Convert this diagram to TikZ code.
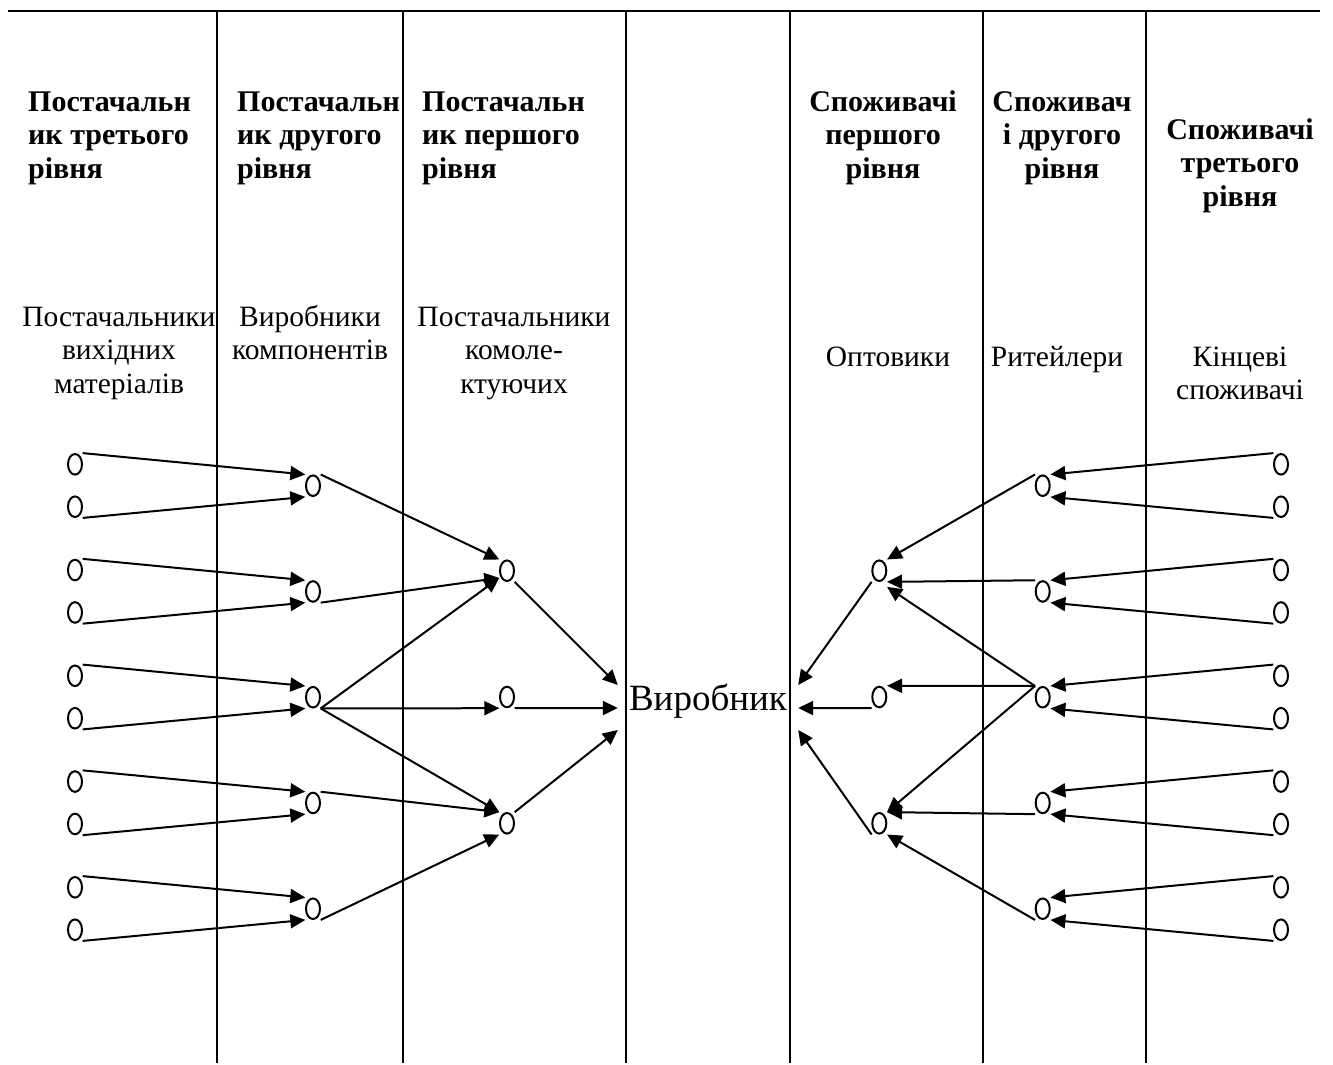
\documentclass[tikz,border=0pt]{standalone}
\usepackage{fontspec}
\setmainfont{Liberation Serif}
\usetikzlibrary{arrows.meta,calc}
\newcommand{\mytabc}[1]{\begin{tabular}[t]{@{}c@{}}#1\end{tabular}}
\newcommand{\mytabl}[1]{\begin{tabular}[t]{@{}l@{}}#1\end{tabular}}
\begin{document}
\begin{tikzpicture}[x=1pt,y=-1pt,
  rule/.style={line width=2pt},
  arr/.style={line width=2pt, -{Triangle[length=15pt,width=14pt]}},
  o/.style={rectangle, minimum width=15pt, minimum height=22pt, inner sep=0pt},
  oval/.style={line width=2pt},
  hdr/.style={font=\fontsize{30}{33.5}\selectfont\bfseries, inner sep=0pt, anchor=base west},
  hdrc/.style={font=\fontsize{30}{33.5}\selectfont\bfseries, inner sep=0pt, anchor=base},
  lbl/.style={font=\fontsize{29.5}{33.5}\selectfont, inner sep=0pt, anchor=base},
]
\useasboundingbox (0,0) rectangle (1333,1065);

% frame lines
\draw[line width=2.4pt] (8,11) -- (1320,11);
\foreach \x in {217,402.5,625.5,789.5,982.7,1145.5}
  \draw[rule] (\x,11) -- (\x,1063);

% headers
\node[hdr] (h1) at (28,111) {\mytabl{Постачальн\\ик третього\\рівня}};
\node[hdr] (h2) at (237,111) {\mytabl{Постачальн\\ик другого\\рівня}};
\node[hdr] (h3) at (422,111) {\mytabl{Постачальн\\ик першого\\рівня}};
\node[hdrc] (h5) at (883,111) {\mytabc{Споживачі\\першого\\рівня}};
\node[hdrc] (h6) at (1062,111) {\mytabc{Споживач\\і другого\\рівня}};
\node[hdrc] (h7) at (1240,139) {\mytabc{Споживачі\\третього\\рівня}};

% labels
\node[lbl] (l1) at (119,326) {\mytabc{Постачальники\\вихідних\\матеріалів}};
\node[lbl] (l2) at (310,326) {\mytabc{Виробники\\компонентів}};
\node[lbl] (l3) at (514,326) {\mytabc{Постачальники\\комоле-\\ктуючих}};
\node[lbl] (l5) at (888,366) {Оптовики};
\node[lbl] (l6) at (1057,366) {Ритейлери};
\node[lbl] (l7) at (1240,366) {\mytabc{Кінцеві\\споживачі}};

% producer
\node[font=\fontsize{37}{40}\selectfont, inner sep=0pt, minimum width=180pt, anchor=base] (v) at (708,710) {Виробник};

% oval nodes
\foreach \k in {0,...,4} {
  \pgfmathsetmacro\ya{464.3+105.75*\k}
  \pgfmathsetmacro\yb{506.7+105.75*\k}
  \pgfmathsetmacro\yc{485.7+105.75*\k}
  \node[o] (a\k) at (75,\ya) {};
  \node[o] (b\k) at (75,\yb) {};
  \node[o] (c\k) at (313,\yc) {};
  \node[o] (f\k) at (1042.7,\yc) {};
  \node[o] (g\k) at (1281,\ya) {};
  \node[o] (h\k) at (1281,\yb) {};
}
\node[o] (d0) at (507,570.7) {};
\node[o] (d1) at (507,697) {};
\node[o] (d2) at (507,823.3) {};
\node[o] (e0) at (879.3,570.7) {};
\node[o] (e1) at (879.3,697) {};
\node[o] (e2) at (879.3,823.3) {};

\foreach \n in {a0,a1,a2,a3,a4,b0,b1,b2,b3,b4,c0,c1,c2,c3,c4,f0,f1,f2,f3,f4,g0,g1,g2,g3,g4,h0,h1,h2,h3,h4,d0,d1,d2,e0,e1,e2}
  \draw[oval] (\n.center) ellipse [x radius=7pt, y radius=10.3pt];

% suppliers
\foreach \k in {0,...,4} {
  \draw[arr] (a\k.north east) -- (c\k.north west);
  \draw[arr] (b\k.south east) -- (c\k.south west);
  \draw[arr] (g\k.north west) -- (f\k.north east);
  \draw[arr] (h\k.south west) -- (f\k.south east);
}
\draw[arr] (c0.north east) -- (d0.north west);
\draw[arr] (c1.south east) -- ($(d0.south west)+(0,-4)$);
\draw[arr] (c2.south east) -- ($(d0.south west)+(0,-4)$);
\draw[arr] (c2.south east) -- (d1.south west);
\draw[arr] (c2.south east) -- (d2.north west);
\draw[arr] (c3.north east) -- (d2.north west);
\draw[arr] (c4.south east) -- (d2.south west);

\draw[arr] (d0.south east) -- ($(v.base west)+(0,-25)$);
\draw[arr] (d1.south east) -- ($(v.base west)+(0,-2)$);
\draw[arr] (d2.north east) -- ($(v.base west)+(0,20)$);

% consumers
\draw[arr] (f0.north west) -- (e0.north east);
\draw[arr] (f1.north west) -- (e0.south east);
\draw[arr] (f2.north west) -- ($(e0.south east)+(0,5)$);
\draw[arr] (f2.north west) -- (e1.north east);
\draw[arr] (f2.north west) -- (e2.north east);
\draw[arr] (f3.south west) -- (e2.north east);
\draw[arr] (f4.south west) -- (e2.south east);

\draw[arr] (e0.south west) -- ($(v.base east)+(0,-25)$);
\draw[arr] (e1.south west) -- ($(v.base east)+(0,-2)$);
\draw[arr] (e2.south west) -- ($(v.base east)+(0,20)$);
\end{tikzpicture}
\end{document}
